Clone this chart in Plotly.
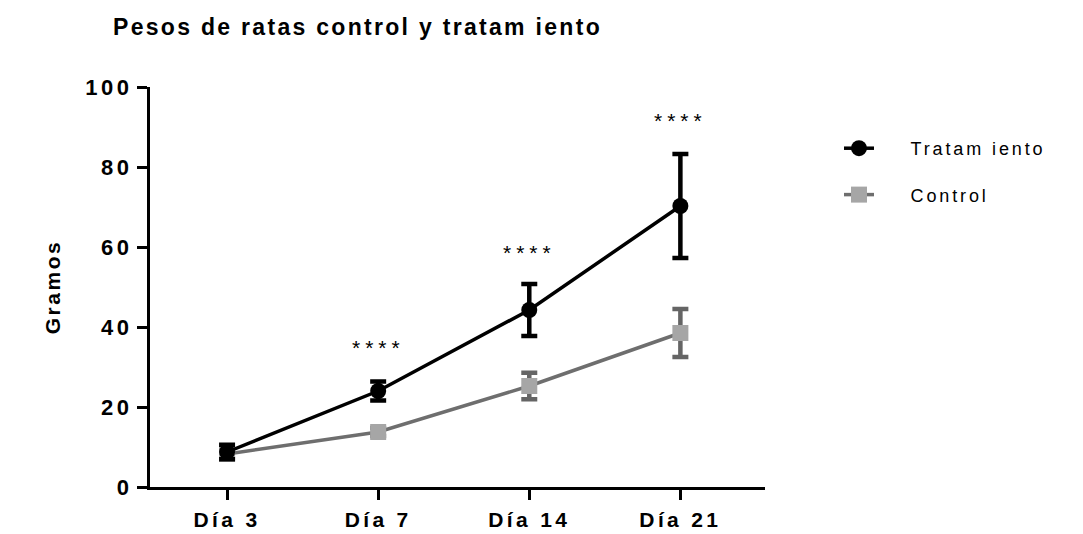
import plotly.graph_objects as go

# Weight of rats (g) per day, mean and error
dias = ["Día 3", "Día 7", "Día 14", "Día 21"]
tratamiento = [8.75, 24.0, 44.25, 70.25]
tratamiento_err = [1.8, 2.4, 6.5, 13.0]
control = [8.25, 13.75, 25.25, 38.5]
control_err = [1.0, 1.0, 3.3, 6.0]
sig_label = ["", "****", "****", "****"]
sig_y = [None, 35.0, 58.75, 91.75]
yticks = [0, 20, 40, 60, 80, 100]

xpos = list(range(len(dias)))
FONT = "Liberation Sans, Arial, sans-serif"
PAD = "\u00a0" * 4  # gap between legend symbol and label

fig = go.Figure()

fig.add_trace(go.Scatter(
    x=xpos, y=control, name=PAD + "Control", mode="lines+markers",
    legendgroup="c", legendrank=2,
    line=dict(color="#6e6e6e", width=3.5),
    marker=dict(symbol="square", size=16, color="#a6a6a6",
                line=dict(width=0)),
    error_y=dict(type="data", array=control_err, visible=True,
                 color="#656565", thickness=4.5, width=8),
))

fig.add_trace(go.Scatter(
    x=xpos, y=tratamiento, name=PAD + "Tratam iento", mode="lines+markers",
    legendgroup="t", legendrank=1,
    line=dict(color="black", width=3.5),
    marker=dict(symbol="circle", size=16, color="black"),
    error_y=dict(type="data", array=tratamiento_err, visible=True,
                 color="black", thickness=4.5, width=8),
))

for x, lab, y in zip(xpos, sig_label, sig_y):
    if lab:
        fig.add_annotation(x=x, y=y, text=lab, showarrow=False,
                           font=dict(family=FONT, size=21, color="black"),
                           xanchor="center", yanchor="middle")

fig.update_layout(
    width=1083, height=534,
    margin=dict(l=150, r=318, t=87, b=47),
    paper_bgcolor="white", plot_bgcolor="white",
    font=dict(family=FONT, color="black"),
    title=dict(text="<b>Pesos de ratas control y tratam iento</b>",
               x=113 / 1083, xanchor="left", y=1 - 27 / 534, yanchor="middle",
               font=dict(family=FONT, size=23, color="black")),
    legend=dict(x=1.1203, y=0.8925, xanchor="left", yanchor="top",
                traceorder="grouped", tracegroupgap=20,
                font=dict(family=FONT, size=18, color="black"),
                bgcolor="rgba(0,0,0,0)"),
    showlegend=True,
)

fig.update_xaxes(
    range=[-0.51, 3.56], tickvals=xpos, ticktext=[f"<b>{d}</b>" for d in dias],
    showgrid=False, zeroline=False, showline=True, linecolor="black", linewidth=3,
    ticks="outside", ticklen=10, tickwidth=3, tickcolor="black",
    ticklabelstandoff=2, automargin=False,
    tickfont=dict(family=FONT, size=21, color="black"),
)
fig.update_yaxes(
    range=[0, 100], tickvals=yticks,
    ticktext=[f"<b>{v}</b>" for v in yticks],
    showgrid=False, zeroline=False, showline=True, linecolor="black", linewidth=3,
    ticks="outside", ticklen=10, tickwidth=3, tickcolor="black",
    ticklabelstandoff=0, automargin=False,
    tickfont=dict(family=FONT, size=22, color="black"),
    title=dict(text="<b>Gramos</b>", standoff=30,
               font=dict(family=FONT, size=21, color="black")),
)

# widen character spacing of the figure text
post = """
var s = document.createElement('style');
s.innerHTML = '.main-svg text { letter-spacing: 0.16em; }'
  + ' .main-svg .annotation-text { letter-spacing: 0.24em; }'
  + ' .main-svg .gtitle { letter-spacing: 0.1em; }'
  + ' .main-svg .ytitle { letter-spacing: 0.12em; }'
  + ' .legend .scrollbox, .legend [clip-path] { clip-path: none !important; }';
document.head.appendChild(s);
"""

fig.write_html("out.html", post_script=post)
